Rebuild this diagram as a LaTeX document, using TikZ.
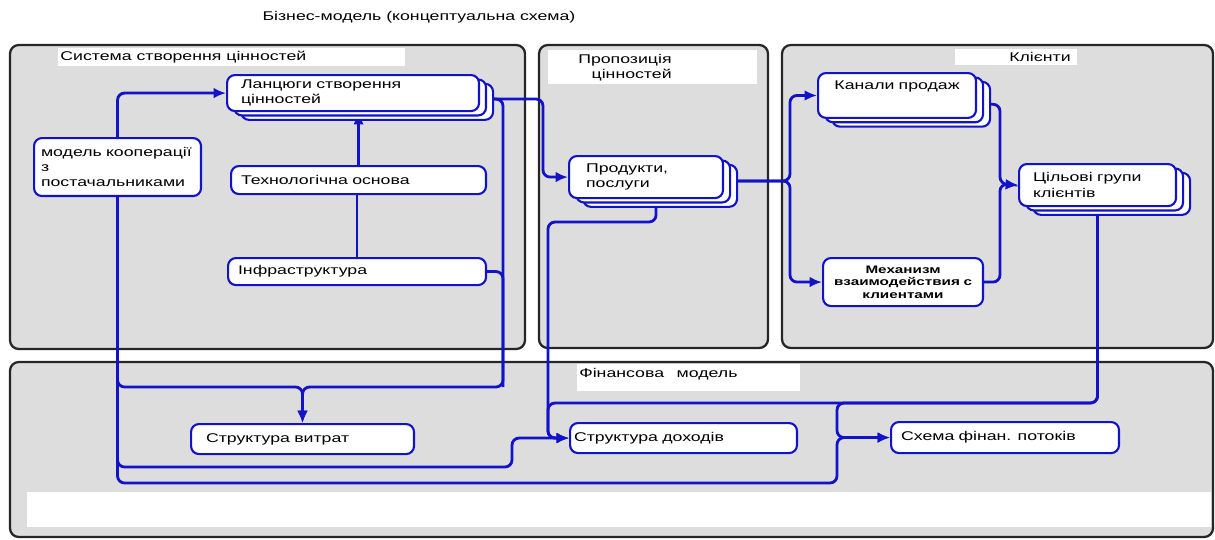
\documentclass[tikz,border=0pt]{standalone}
\usepackage{fontspec}
\setmainfont{Liberation Sans}[FakeStretch=1.4]
\usetikzlibrary{arrows.meta,shadows}
\definecolor{linkblue}{RGB}{18,18,200}
\definecolor{panelgray}{RGB}{221,221,221}
\pgfdeclarelayer{panels}
\pgfdeclarelayer{wires}
\pgfsetlayers{panels,wires,main}
\tikzset{
  panel/.style={draw=black!85,fill=panelgray,line width=1.3pt,rounded corners=5pt},
  box/.style={draw=linkblue,fill=white,line width=1.2pt,rounded corners=4.5pt,anchor=north west,align=left,inner ysep=0pt},
  stack/.style={box,copy shadow={shadow xshift=8pt,shadow yshift=-5pt},copy shadow={shadow xshift=4pt,shadow yshift=-2.5pt}},
  link/.style={draw=linkblue,line width=1.6pt,rounded corners=4pt,-{Latex[length=7pt,width=6pt]}},
  plain/.style={draw=linkblue,line width=1.6pt,rounded corners=4pt},
}

\begin{document}
\begin{tikzpicture}[x=0.02cm,y=-0.02cm,font=\fontsize{7.2}{8.7}\selectfont]
\useasboundingbox (0,0) rectangle (1215,539);
\begin{pgfonlayer}{panels}
\draw[panel] (10,45) rectangle (525,349);
\draw[panel] (539,45) rectangle (768,348);
\draw[panel] (782,45) rectangle (1213,348);
\draw[panel] (10,362) rectangle (1213,537);
\fill[white] (27,492) rectangle (1211,527);
\fill[white] (58,48) rectangle (405,66);
\fill[white] (548,50) rectangle (757,84);
\fill[white] (955,49) rectangle (1077,65);
\fill[white] (577,364) rectangle (800,391);
\end{pgfonlayer}

\node (title) at (419,17) {Бізнес-модель (концептуальна схема)};
\node[anchor=west,inner sep=0pt] (sysl) at (60,57) {Система створення цінностей};
\node[anchor=north east,align=right,inner sep=0pt] (propl) at (672,54) {Пропозиція\\цінностей};
\node (clil) at (1040,57) {Клієнти};
\node[anchor=west,inner sep=0pt] (finl) at (579,374) {Фінансова\quad модель};

\node[stack,minimum width=5.04cm,minimum height=0.72cm,text width=4.48cm,inner xsep=0.28cm] (chain) at (226,74) {Ланцюги створення\\цінностей};
\node[box,minimum width=3.34cm,minimum height=1.16cm,text width=3.06cm,inner xsep=0.14cm] (coop) at (33,137) {модель кооперації\\з\\постачальниками};
\node[box,minimum width=5.1cm,minimum height=0.56cm,text width=4.7cm,inner xsep=0.2cm] (tech) at (230,165) {Технологічна основа};
\node[box,minimum width=5.16cm,minimum height=0.54cm,text width=4.76cm,inner xsep=0.2cm] (infra) at (227,257) {Інфраструктура};
\node[stack,minimum width=3.08cm,minimum height=0.84cm,text width=2.4cm,inner xsep=0.34cm] (prod) at (568,155) {Продукти,\\послуги};
\node[stack,minimum width=3.16cm,text width=3cm,inner xsep=0.08cm,align=center,text height=9.5pt,text depth=16pt] (chan) at (817,72) {Канали продаж};
\node[box,minimum width=3.2cm,minimum height=0.96cm,text width=3.04cm,inner xsep=0.08cm,align=center,font=\bfseries\fontsize{6.2}{7}\selectfont] (mech) at (822,257) {Механизм\\взаимодействия с\\клиентами};
\node[stack,minimum width=3.14cm,minimum height=0.84cm,text width=2.58cm,inner xsep=0.28cm] (target) at (1018,163) {Цільові групи\\клієнтів};
\node[box,minimum width=4.46cm,minimum height=0.6cm,text width=3.86cm,inner xsep=0.3cm] (cost) at (190,423) {Структура витрат};
\node[box,minimum width=4.54cm,minimum height=0.6cm,text width=4.38cm,inner xsep=0.08cm] (rev) at (569,422) {Структура доходів};
\node[box,minimum width=4.56cm,minimum height=0.62cm,text width=4.16cm,inner xsep=0.2cm] (fin) at (890,421) {Схема фінан. потоків};

\coordinate (cb) at (543,99);
\coordinate (cd) at (503,387);
\coordinate (rb) at (512,467);
\coordinate (fb) at (837,483);
\coordinate (fm) at (837,403);
\coordinate (rt) at (548,222);
\coordinate (pj) at (790,181);
\coordinate (tj) at (1000,184);

\begin{pgfonlayer}{wires}
\draw[link] (coop.north) |- (chain.west);
\draw[link] (tech.north) -- (tech.north |- chain.south);
\draw[plain] (infra.north) -- (infra.north |- tech.south);
\draw[link] (chain.east |- cb) -- (cb) |- (prod.west);
\draw[link] (chain.east |- cb) -| (cd) -| (cost.north);
\draw[plain] (infra.east) -| (cd);
\draw[link] (coop.south) |- (cost.north |- cd) -- (cost.north);
\draw[link] (coop.south) |- (rb) |- (rev.west);
\draw[link] (coop.south) |- (fb) |- (fin.west);
\draw[link] ([xshift=5.7pt]prod.south) |- (rt) |- (rev.west);
\draw[link] (target.south) |- (fm) |- (fin.west);
\draw[link] (target.south) |- (rt |- fm) |- (rev.west);
\draw[link] (prod.east |- pj) -- (pj) |- (chan.west);
\draw[link] (prod.east |- pj) -- (pj) |- (mech.west);
\draw[link] ([yshift=-5pt]chan.east) -| (tj) -- (target.west);
\draw[link] (mech.east) -| (tj) -- (target.west);
\end{pgfonlayer}
\end{tikzpicture}
\end{document}
